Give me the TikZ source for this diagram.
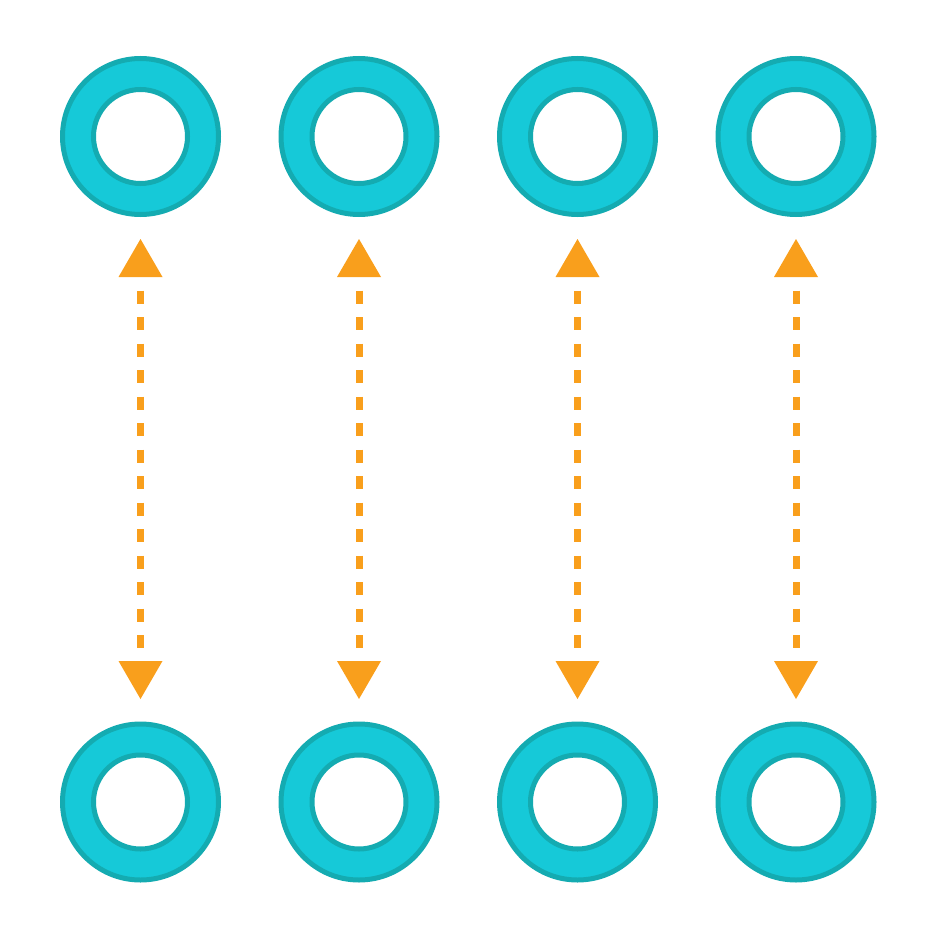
\documentclass[tikz,border=0pt]{standalone}
\usepackage{tikz}
\usetikzlibrary{arrows.meta}

\definecolor{ringfill}{HTML}{16C9D8}
\definecolor{ringedge}{HTML}{14ABB1}
\definecolor{linkorange}{HTML}{F99F1C}

\tikzset{
  ring/.style={circle, draw=ringedge, fill=ringfill, line width=5pt,
    minimum size=156pt, inner sep=0pt, outer sep=2.5pt,
    path picture={\draw[ringedge, fill=white, line width=5pt]
      (path picture bounding box.center) circle (47pt);}},
  link/.style={linkorange, line width=7pt,
    dash pattern=on 13pt off 13.5pt, dash phase=13pt,
    arrows={Triangle[width=44pt,length=38pt,line width=0pt]-Triangle[width=44pt,length=38pt,line width=0pt]},
    shorten <=22pt, shorten >=22.5pt}
}

\begin{document}
\begin{tikzpicture}[x=1pt, y=-1pt]
    % Fix the page size
    \useasboundingbox (0,0) rectangle (936,939);

    % Draw the rings in two rows
    \foreach \i/\x in {1/140.5, 2/359, 3/577.5, 4/796} {
        \node[ring] (top\i) at (\x, 136.5) {};
        \node[ring] (bot\i) at (\x, 802) {};
    }

    % Join each pair with a dashed double arrow
    \foreach \i in {1,...,4} {
        \draw[link] (top\i) -- (bot\i);
    }
\end{tikzpicture}
\end{document}
